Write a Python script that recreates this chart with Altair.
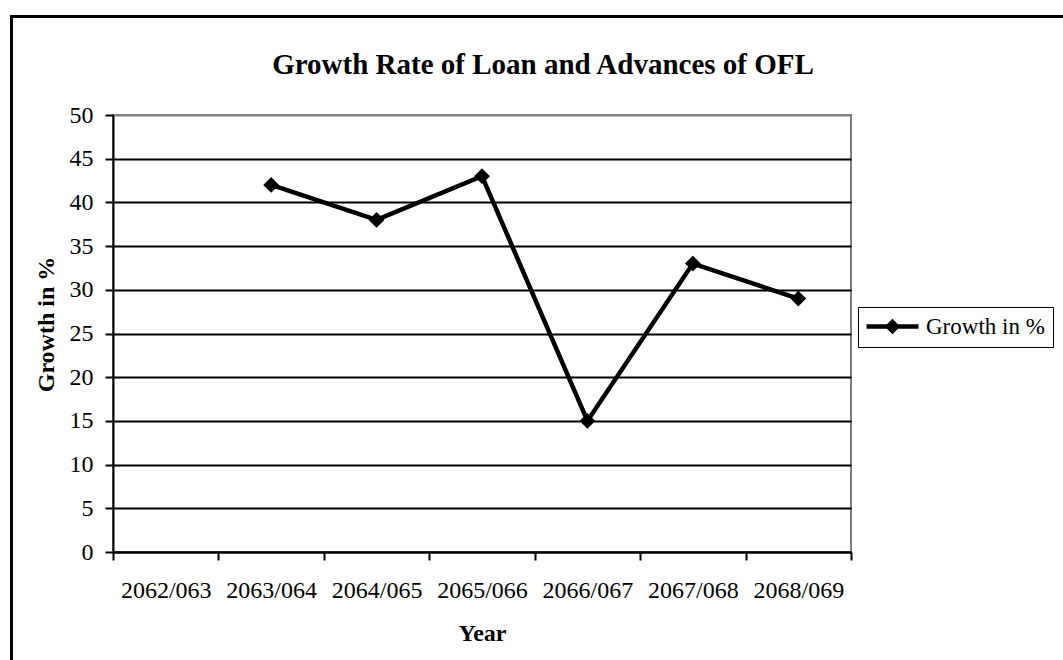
import altair as alt
import pandas as pd

years = ["2062/063", "2063/064", "2064/065", "2065/066", "2066/067", "2067/068", "2068/069"]
growth = [None, 42, 38, 43, 15, 33, 29]
series_name = "Growth in %"
y_ticks = [0, 5, 10, 15, 20, 25, 30, 35, 40, 45, 50]

df = pd.DataFrame({"Year": years, "Growth": growth, "Series": [series_name] * len(years)})
frame_df = pd.DataFrame({"k": [0]})

FONT = "Liberation Serif"
W, H = 738, 437
PL, PT = 113, 115

x_enc = alt.X(
    "Year:N",
    scale=alt.Scale(type="band", domain=years, paddingInner=0, paddingOuter=0),
    axis=alt.Axis(
        title="Year", labelAngle=0, tickBand="extent", grid=False,
        domainColor="black", domainWidth=2, tickColor="black", tickWidth=2, tickSize=8,
        labelFont=FONT, labelFontSize=24, labelColor="black",
        labelBaseline="alphabetic", labelPadding=37,
        titleFont=FONT, titleFontSize=24, titleFontWeight="bold", titleColor="black",
        titleBaseline="alphabetic", titleY=88, titleX=W / 2, titleAlign="center",
    ),
)

y_enc = alt.Y(
    "Growth:Q",
    scale=alt.Scale(domain=[0, 50], nice=False, zero=True),
    axis=alt.Axis(
        values=y_ticks, title=series_name,
        grid=True, gridWidth=2,
        gridColor={"condition": {"test": "datum.value === 50", "value": "#808080"}, "value": "black"},
        domainColor="black", domainWidth=2, tickColor="black", tickWidth=2, tickSize=8,
        labelFont=FONT, labelFontSize=24, labelColor="black", labelPadding=12,
        titleFont=FONT, titleFontSize=24, titleFontWeight="bold", titleColor="black",
        titleAngle=-90, titleBaseline="alphabetic", titleAlign="center",
        titleX=-60, titleY=209,
    ),
)

base = alt.Chart(df)

line = base.mark_line(color="black", strokeWidth=4.5).encode(x=x_enc, y=y_enc)

# legend symbol: thick line with a diamond in the middle (unit = 11px)
legend_path = (
    "M -1 -0.2 L 3.73 -0.2 L 3.73 0.2 L -1 0.2 Z "
    "M 1.36 -0.7 L 2.06 0 L 1.36 0.7 L 0.66 0 Z"
)

points = base.mark_point(shape="diamond", filled=True, size=250, opacity=1).encode(
    x=x_enc,
    y=y_enc,
    color=alt.Color(
        "Series:N",
        scale=alt.Scale(range=["black"]),
        legend=alt.Legend(
            title=None, orient="none", legendX=745, legendY=192,
            symbolType=legend_path,
            symbolSize=484, symbolFillColor="black", symbolStrokeWidth=0,
            labelFont=FONT, labelFontSize=23, labelColor="black", labelOffset=37,
            padding=8, strokeColor="black", fillColor="white",
        ),
    ),
)

frame = alt.Chart(frame_df).mark_rect(fillOpacity=0, stroke="black", strokeWidth=3).encode(
    x=alt.value(11.5 - PL), x2=alt.value(1200), y=alt.value(16.5 - PT), y2=alt.value(800)
)

chart = alt.layer(frame, line, points).properties(
    width=W,
    height=H,
    title=alt.TitleParams(
        "Growth Rate of Loan and Advances of OFL",
        font=FONT, fontSize=29, fontWeight="bold", color="black",
        frame="group", anchor="middle", dx=61, dy=88, offset=0, baseline="alphabetic",
    ),
    autosize=alt.AutoSizeParams(type="none"),
    padding={"left": PL, "top": PT, "right": 1063 - PL - W, "bottom": 660 - PT - H},
    background="white",
).configure_view(stroke="#808080", strokeWidth=2)

chart.save("out.html", embed_options={"renderer": "svg", "actions": False})
